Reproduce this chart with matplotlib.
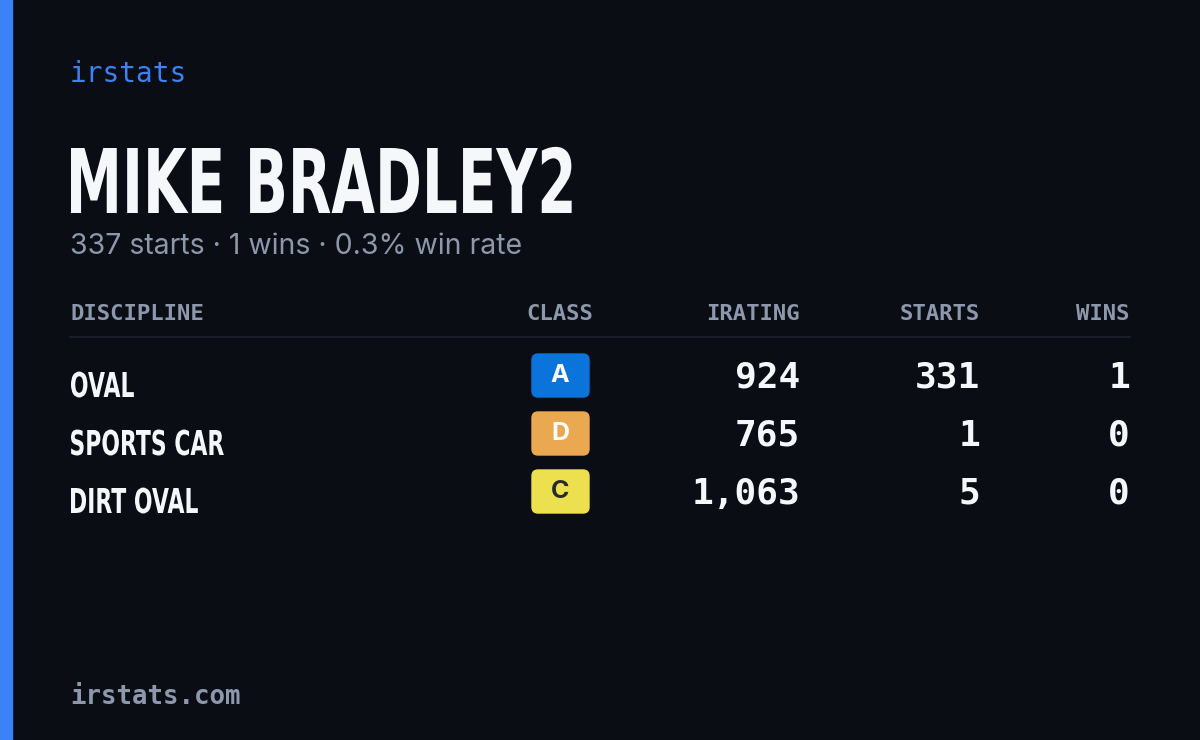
import matplotlib
matplotlib.use("Agg")
import matplotlib.pyplot as plt
from matplotlib.patches import FancyBboxPatch, Rectangle, PathPatch
from matplotlib.textpath import TextPath
from matplotlib.font_manager import FontProperties
from matplotlib.transforms import Affine2D
from matplotlib import font_manager as fm

disciplines = ["OVAL", "SPORTS CAR", "DIRT OVAL"]
classes = ["A", "D", "C"]
iratings = [924, 765, 1063]
starts = [331, 1, 5]
wins = [1, 0, 0]
class_colors = {"A": "#0b74da", "D": "#eaa850", "C": "#ece04f"}
class_text = {"A": "white", "D": "white", "C": "#2a2a2a"}

names = {f.name for f in fm.fontManager.ttflist}
mono = "DejaVu Sans Mono"
sans = "Inter" if "Inter" in names else "DejaVu Sans"
BOLD = FontProperties(family="DejaVu Sans", weight="bold")
CAP = TextPath((0, 0), "H", size=100, prop=BOLD).get_extents().height / 100

fig = plt.figure(figsize=(12, 7.4), dpi=100, facecolor="#0a0d14")
ax = fig.add_axes([0, 0, 1, 1])
ax.set_xlim(0, 1200); ax.set_ylim(740, 0); ax.axis("off")
ax.add_patch(Rectangle((0, 0), 12, 740, color="#3b82f6"))


def cond_text(x, baseline, s, cap_px, stretch, color):
    size = cap_px / CAP
    tp = TextPath((0, 0), s, size=size, prop=BOLD)
    ext = tp.get_extents()
    tr = Affine2D().translate(-ext.x0, 0).scale(stretch, -1).translate(x, baseline)
    ax.add_patch(PathPatch(tr.transform_path(tp), color=color, lw=0))


ax.text(70, 74, "irstats", color="#3b82f6", fontsize=20, family=mono, va="center")
cond_text(71, 213, "MIKE BRADLEY2", 65, 0.633, "#f5f7fa")
ax.text(70, 246, "337 starts · 1 wins · 0.3% win rate", color="#8d98ad",
        fontsize=20.5, family=sans, va="center")

hdr_y = 314
hc = "#8d98ad"
kw = dict(color=hc, fontsize=16, family=mono, va="center", weight="bold")
ax.text(70, hdr_y, "DISCIPLINE", **kw)
ax.text(560, hdr_y, "CLASS", ha="center", **kw)
ax.text(800, hdr_y, "IRATING", ha="right", **kw)
ax.text(980, hdr_y, "STARTS", ha="right", **kw)
ax.text(1130, hdr_y, "WINS", ha="right", **kw)
ax.plot([70, 1130], [337, 337], color="#1c2230", lw=1.2)

for i, (d, c, r, s, w) in enumerate(zip(disciplines, classes, iratings, starts, wins)):
    y = 376 + i * 58
    cond_text(71, y + 21, d, 25, 0.64, "#f5f7fa")
    ax.add_patch(FancyBboxPatch((534, y - 20), 53, 39, boxstyle="round,pad=2,rounding_size=6",
                                color=class_colors[c]))
    ax.text(560, y, c, color=class_text[c], fontsize=18, family=sans, weight="bold",
            ha="center", va="center")
    nk = dict(color="#f5f7fa", fontsize=26, family=mono, ha="right", va="center", weight="bold")
    ax.text(800, y + 2, f"{r:,}", **nk)
    ax.text(980, y + 2, f"{s:,}", **nk)
    ax.text(1130, y + 2, f"{w:,}", **nk)

ax.text(70, 697, "irstats.com", color="#8d98ad", fontsize=18.5, family=mono, va="center",
        weight="bold")
fig.savefig("out.png", dpi=100, facecolor=fig.get_facecolor())
